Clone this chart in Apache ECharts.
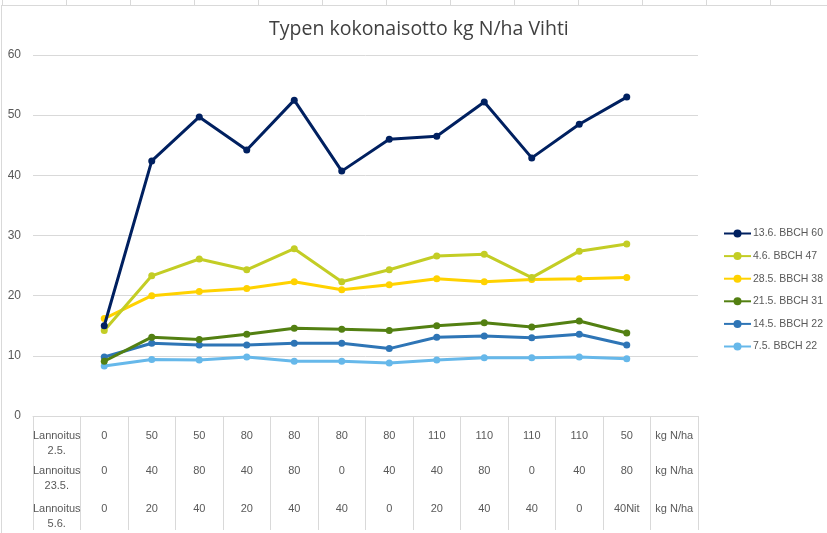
<!DOCTYPE html>
<html>
<head>
<meta charset="utf-8">
<script src="https://cdn.jsdelivr.net/npm/echarts@6/dist/echarts.min.js"></script>
<style>
  html, body { margin: 0; padding: 0; background: #fff; }
  body {
    width: 827px; height: 533px; position: relative; overflow: hidden;
    background-image: linear-gradient(to right, #d9d9d9 1px, transparent 1px);
    background-size: 64px 6px; background-position: 2px 0; background-repeat: repeat-x;
  }
  #frame { position: absolute; left: 1px; top: 5px; width: 830px; height: 540px;
    border-top: 1px solid #d9d9d9; border-left: 1px solid #d9d9d9; background: #fff; }
  #chart { position: absolute; left: 0; top: 0; width: 827px; height: 533px; }
</style>
</head>
<body>
<div id="frame"></div>
<div id="chart"></div>
<script>
// Table rows under the x axis (category labels)
const row1 = ['Lannoitus\n2.5.', '0', '50', '50', '80', '80', '80', '80', '110', '110', '110', '110', '50', 'kg N/ha'];
const row2 = ['Lannoitus\n23.5.', '0', '40', '80', '40', '80', '0', '40', '40', '80', '0', '40', '80', 'kg N/ha'];
const row3 = ['Lannoitus\n5.6.', '0', '20', '40', '20', '40', '40', '0', '20', '40', '40', '0', '40Nit', 'kg N/ha'];

const yTicks = [0, 10, 20, 30, 40, 50, 60];

// Series names
const names = ['13.6. BBCH 60', '4.6. BBCH 47', '28.5. BBCH 38', '21.5. BBCH 31', '14.5. BBCH 22', '7.5. BBCH 22'];

// Series values (12 treatments)
const s_13_6 = [15.0, 42.4, 49.7, 44.2, 52.5, 40.7, 46.0, 46.5, 52.2, 42.9, 48.5, 53.0];
const s_4_6  = [14.2, 23.3, 26.1, 24.3, 27.8, 22.3, 24.3, 26.6, 26.9, 23.0, 27.4, 28.6];
const s_28_5 = [16.2, 20.0, 20.7, 21.2, 22.3, 21.0, 21.8, 22.8, 22.3, 22.7, 22.8, 23.0];
const s_21_5 = [9.1, 13.1, 12.7, 13.6, 14.6, 14.4, 14.2, 15.0, 15.5, 14.8, 15.8, 13.8];
const s_14_5 = [9.8, 12.1, 11.8, 11.8, 12.1, 12.1, 11.2, 13.1, 13.3, 13.0, 13.6, 11.8];
const s_7_5  = [8.3, 9.4, 9.3, 9.8, 9.1, 9.1, 8.8, 9.3, 9.7, 9.7, 9.8, 9.5];

const colors = ['#002060', '#c3cd25', '#ffd200', '#538012', '#2e75b6', '#66b8ea'];
const allSeries = [s_13_6, s_4_6, s_28_5, s_21_5, s_14_5, s_7_5];

const catIdx = row1.map((_, i) => String(i));
const labelCol = '#595959';
const font = 'Liberation Sans';

function xAx(rows, offset, withTicks) {
  return {
    type: 'category', data: catIdx, position: 'bottom', offset: offset,
    boundaryGap: true,
    axisLine: { show: withTicks, lineStyle: { color: '#d9d9d9', width: 1 } },
    axisTick: { show: withTicks, interval: 0, length: 114, lineStyle: { color: '#d9d9d9' } },
    axisLabel: {
      interval: 0, margin: 12, color: labelCol, fontFamily: font, fontSize: 11,
      lineHeight: 15.5, verticalAlign: 'top',
      formatter: (v, i) => rows[i]
    },
    splitLine: { show: false }
  };
}

const series = allSeries.map((vals, k) => ({
  name: names[k], type: 'line', xAxisIndex: 0,
  data: [null].concat(vals).concat([null]),
  symbol: 'circle', symbolSize: 7, color: colors[k],
  lineStyle: { width: 3, color: colors[k] },
  itemStyle: { color: colors[k] },
  z: 10 - k
}));

const chart = echarts.init(document.getElementById('chart'), null, { renderer: 'canvas' });
chart.setOption({
  backgroundColor: 'transparent',
  animation: false,
  title: {
    text: 'Typen kokonaisotto kg N/ha Vihti', left: 264, top: 14,
    textStyle: { fontFamily: 'Open Sans', fontWeight: 'normal', fontSize: 19.5, color: '#404040' }
  },
  grid: { left: 33, right: 129, top: 55, bottom: 117, containLabel: false },
  xAxis: [xAx(row1, 0, true), xAx(row2, 35, false), xAx(row3, 73, false)],
  yAxis: {
    type: 'value', min: yTicks[0], max: yTicks[yTicks.length - 1], interval: 10,
    axisLine: { show: false }, axisTick: { show: false },
    axisLabel: { margin: 12, color: labelCol, fontFamily: font, fontSize: 12 },
    splitLine: { lineStyle: { color: '#d9d9d9', width: 1 } }
  },
  legend: {
    orient: 'vertical', left: 718, top: 223,
    itemWidth: 27, itemHeight: 10, itemGap: 11.6,
    textStyle: { color: labelCol, fontFamily: font, fontSize: 10.5, lineHeight: 10, padding: [0, 0, 0, -3] },
    data: names
  },
  series: series
});
</script>
</body>
</html>
